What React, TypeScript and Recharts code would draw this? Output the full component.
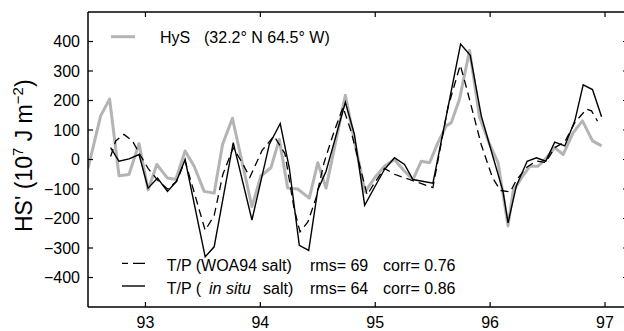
import React from "react";
import { LineChart, Line, XAxis, YAxis } from "recharts";

// ---- data (year, heat storage anomaly, 10^7 J m^-2) ----
const hysYears = [92.5, 92.61, 92.688, 92.77, 92.857, 92.944, 93.023, 93.099, 93.192, 93.264, 93.345, 93.424, 93.511, 93.598, 93.671, 93.757, 93.927, 94.005, 94.092, 94.165, 94.238, 94.325, 94.426, 94.5, 94.572, 94.74, 94.819, 94.912, 94.993, 95.08, 95.167, 95.255, 95.328, 95.4, 95.473, 95.546, 95.618, 95.662, 95.734, 95.821, 95.908, 95.996, 96.069, 96.156, 96.2, 96.272, 96.344, 96.418, 96.49, 96.562, 96.636, 96.723, 96.804, 96.891, 96.97];
const hysValues = [-30, 148, 205, -55, -51, 54, -103, -17, -63, -68, 29, -23, -108, -114, 51, 140, -160, -56, -28, 68, -97, -100, -131, -11, -97, 218, 63, -110, -63, -23, 0, -40, -68, -6, -11, 57, 114, 125, 205, 370, 143, 51, -11, -225, -108, -63, -23, -23, 6, 40, 17, 91, 131, 63, 46];

const woaYears = [92.697, 92.741, 92.813, 92.887, 92.959, 93.023, 93.105, 93.192, 93.27, 93.345, 93.52, 93.598, 93.674, 93.764, 93.84, 93.909, 94.014, 94.119, 94.214, 94.293, 94.345, 94.415, 94.485, 94.555, 94.642, 94.72, 94.79, 94.929, 94.993, 95.08, 95.167, 95.328, 95.502, 95.633, 95.74, 95.793, 95.923, 96.019, 96.089, 96.176, 96.228, 96.322, 96.403, 96.484, 96.562, 96.65, 96.737, 96.839, 96.882, 96.935];
const woaValues = [10, 63, 85, 63, 12, -30, -70, -100, -75, -5, -240, -190, -50, 40, -10, -60, 30, 80, 20, -165, -245, -211, -130, -10, 95, 177, 95, -120, -80, -30, -50, -72, -95, 177, 320, 245, 50, -60, -105, -110, -70, -25, -5, -10, 40, 60, 125, 171, 165, 130];

const insituYears = [92.697, 92.77, 92.857, 92.944, 93.023, 93.105, 93.192, 93.27, 93.345, 93.52, 93.598, 93.764, 93.927, 94.078, 94.173, 94.252, 94.339, 94.421, 94.5, 94.572, 94.74, 94.819, 94.908, 94.993, 95.08, 95.167, 95.255, 95.328, 95.502, 95.743, 95.827, 95.923, 96.019, 96.112, 96.156, 96.228, 96.322, 96.403, 96.484, 96.562, 96.65, 96.737, 96.81, 96.891, 96.97];
const insituValues = [40, -6, 2, 17, -97, -63, -108, -74, 0, -330, -296, 57, -205, 51, 122, -28, -291, -308, -103, -40, 194, 85, -155, -95, -34, 6, -17, -68, -80, 391, 353, 148, 17, -108, -215, -90, -6, 6, -6, 59, 46, 131, 253, 237, 145];

const xTicks = [93, 94, 95, 96, 97];
const yTicks = [-400, -300, -200, -100, 0, 100, 200, 300, 400];
const xDomain = [92.5, 97.2];
const yDomain = [-500, 500];

const hysData = hysYears.map((t, i) => ({ t, v: hysValues[i] }));
const woaData = woaYears.map((t, i) => ({ t, v: woaValues[i] }));
const insituData = insituYears.map((t, i) => ({ t, v: insituValues[i] }));

const FONT = "'Liberation Sans', Arial, Helvetica, sans-serif";
const GRAY = "#b4b4b4";

const fmtY = (v: number) => (v < 0 ? "\u2212" + Math.abs(v) : String(v));

const BottomTick = (p: any) => (
  <g>
    <line x1={p.x} x2={p.x} y1={p.y} y2={p.y - 5} stroke="#000" strokeWidth={1.2} />
    <text x={p.x} y={p.y + 21} textAnchor="middle" fontSize={16} fontFamily={FONT} fill="#000">
      {p.payload.value}
    </text>
  </g>
);
const TopTick = (p: any) => (
  <line x1={p.x} x2={p.x} y1={p.y} y2={p.y + 5} stroke="#000" strokeWidth={1.2} />
);
const LeftTick = (p: any) => (
  <g>
    <line x1={p.x} x2={p.x + 5} y1={p.y} y2={p.y} stroke="#000" strokeWidth={1.2} />
    <text x={p.x - 8} y={p.y + 5.5} textAnchor="end" fontSize={16} fontFamily={FONT} fill="#000">
      {fmtY(p.payload.value)}
    </text>
  </g>
);
const RightTick = (p: any) => (
  <line x1={p.x} x2={p.x - 5} y1={p.y} y2={p.y} stroke="#000" strokeWidth={1.2} />
);

export default function App() {
  return (
    <div style={{ position: "absolute", left: 0, top: 0, width: 624, height: 331, overflow: "hidden", background: "#fff" }}>
      <LineChart width={640} height={331} margin={{ top: 12, right: 12, bottom: 0, left: 0 }}>
        <XAxis xAxisId="b" dataKey="t" type="number" domain={xDomain} ticks={xTicks} allowDataOverflow
          height={24} tickSize={0} tickMargin={0} tickLine={false} tick={BottomTick}
          axisLine={{ stroke: "#000", strokeWidth: 1.5 }} />
        <XAxis xAxisId="top" orientation="top" dataKey="t" type="number" domain={xDomain} ticks={xTicks} allowDataOverflow
          height={1} tickSize={0} tickMargin={0} tickLine={false} tick={TopTick} mirror
          axisLine={{ stroke: "#000", strokeWidth: 1.5 }} />
        <YAxis yAxisId="l" type="number" domain={yDomain} ticks={yTicks} allowDataOverflow
          width={88} tickSize={0} tickMargin={0} tickLine={false} tick={LeftTick}
          axisLine={{ stroke: "#000", strokeWidth: 1.5 }} />
        <YAxis yAxisId="r" orientation="right" type="number" domain={yDomain} ticks={yTicks} allowDataOverflow
          width={1} tickSize={0} tickMargin={0} tickLine={false} tick={RightTick} mirror
          axisLine={{ stroke: "#000", strokeWidth: 1.5 }} />
        <Line xAxisId="b" yAxisId="l" data={hysData} dataKey="v" type="linear" stroke={GRAY} strokeWidth={3}
          dot={false} isAnimationActive={false} strokeLinejoin="round" />
        <Line xAxisId="top" yAxisId="r" data={hysData} dataKey="v" type="linear" stroke="none" strokeWidth={0}
          dot={false} isAnimationActive={false} />
        <Line xAxisId="b" yAxisId="l" data={woaData} dataKey="v" type="linear" stroke="#000" strokeWidth={1.3}
          strokeDasharray="8 5" dot={false} isAnimationActive={false} />
        <Line xAxisId="b" yAxisId="l" data={insituData} dataKey="v" type="linear" stroke="#000" strokeWidth={1.4}
          dot={false} isAnimationActive={false} />
      </LineChart>
      <svg width={624} height={331} style={{ position: "absolute", left: 0, top: 0, pointerEvents: "none" }}>
        <text transform="rotate(-90, 32, 232)" x={32} y={232} textAnchor="start" fontSize={23} fontFamily={FONT} fill="#000">
          HS' (10<tspan dy={-9} fontSize={15}>7</tspan><tspan dy={9}> J m</tspan>
          <tspan dy={-9} fontSize={15}>{"\u22122"}</tspan><tspan dy={9}>)</tspan>
        </text>
        <line x1={111} x2={135} y1={36.7} y2={36.7} stroke={GRAY} strokeWidth={3} />
        <text x={160} y={42.7} fontSize={16} fontFamily={FONT} fill="#000">HyS</text>
        <text x={204} y={42.7} fontSize={16} fontFamily={FONT} fill="#000">(32.2° N 64.5° W)</text>

        <line x1={122} x2={145} y1={263.3} y2={263.3} stroke="#000" strokeWidth={1.3} strokeDasharray="6 5 12" />
        <text x={166.7} y={270.5} fontSize={16} fontFamily={FONT} fill="#000">T/P (WOA94 salt)</text>
        <text x={310} y={270.5} fontSize={16} fontFamily={FONT} fill="#000">rms= 69</text>
        <text x={383} y={270.5} fontSize={16} fontFamily={FONT} fill="#000">corr= 0.76</text>

        <line x1={122} x2={145} y1={286} y2={286} stroke="#000" strokeWidth={1.4} />
        <text x={166.7} y={294} fontSize={16} fontFamily={FONT} fill="#000">T/P (</text>
        <text x={209} y={294} fontSize={16} fontFamily={FONT} fontStyle="italic" fill="#000">in situ</text>
        <text x={263} y={294} fontSize={16} fontFamily={FONT} fill="#000">salt)</text>
        <text x={310} y={294} fontSize={16} fontFamily={FONT} fill="#000">rms= 64</text>
        <text x={383} y={294} fontSize={16} fontFamily={FONT} fill="#000">corr= 0.86</text>
      </svg>
    </div>
  );
}
